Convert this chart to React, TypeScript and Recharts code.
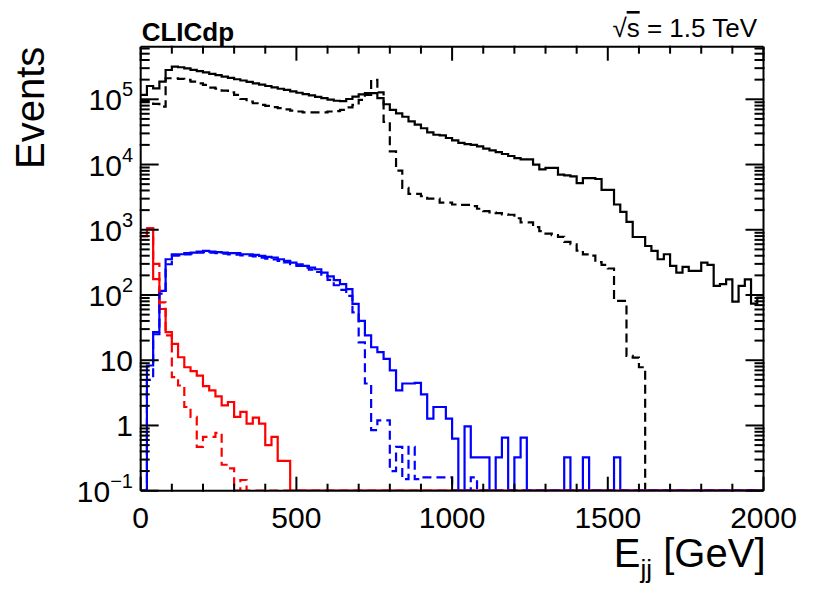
import { LineChart, Line, XAxis, YAxis } from 'recharts';

// 100 bins of 20 GeV, lower bin edges
const BIN_LOW = Array.from({ length: 100 }, (_, i) => i * 20);

// black solid
const BLACK_SOLID = [
  1.17e5, 1.6e5, 1.47e5, 1.86e5, 2.81e5, 3.16e5, 3.1e5, 2.97e5, 2.83e5, 2.7e5,
  2.58e5, 2.45e5, 2.34e5, 2.23e5, 2.13e5, 2.03e5, 1.94e5, 1.85e5, 1.76e5, 1.68e5,
  1.6e5, 1.52e5, 1.45e5, 1.39e5, 1.32e5, 1.26e5, 1.2e5, 1.15e5, 1.09e5, 1.04e5,
  9.9e4, 9.5e4, 9.4e4, 1.01e5, 1.1e5, 1.19e5, 1.24e5, 1.24e5, 1.04e5, 8.4e4,
  6.9e4, 6.1e4, 5.4e4, 4.6e4, 4.1e4, 3.6e4, 3.1e4, 2.86e4, 2.8e4, 2.55e4,
  2.35e4, 2.15e4, 2.05e4, 2.0e4, 1.9e4, 1.75e4, 1.65e4, 1.55e4, 1.45e4, 1.35e4,
  1.25e4, 1.2e4, 1.2e4, 1.0e4, 8.4e3, 8.9e3, 8.9e3, 7.0e3, 6.8e3, 6.6e3,
  5.2e3, 6.2e3, 6.2e3, 6.0e3, 4.1e3, 4.1e3, 2.44e3, 1.88e3, 1.32e3, 774,
  774, 564, 473, 353, 421, 279, 221, 269, 234, 234,
  313, 289, 138, 147, 174, 79, 138, 174, 74, 91,
];

// black dashed
const BLACK_DASHED = [
  9.4e4, 9.4e4, 8.5e4, 7.7e4, 2.1e5, 2.1e5, 2.05e5, 1.98e5, 1.86e5, 1.76e5,
  1.66e5, 1.51e5, 1.45e5, 1.36e5, 1.28e5, 1.17e5, 1.01e5, 9.2e4, 8.7e4, 8.2e4,
  7.9e4, 7.6e4, 7.3e4, 7.0e4, 6.7e4, 6.5e4, 6.3e4, 6.3e4, 6.3e4, 6.3e4,
  6.5e4, 6.6e4, 6.9e4, 7.5e4, 8.2e4, 9.8e4, 1.17e5, 1.98e5, 1.28e5, 4.5e4,
  1.59e4, 8.07e3, 4.4e3, 3.55e3, 3.55e3, 3.27e3, 3.0e3, 3.0e3, 2.6e3, 2.6e3,
  2.44e3, 2.4e3, 2.4e3, 2.3e3, 2.1e3, 1.93e3, 1.85e3, 1.8e3, 1.72e3, 1.7e3,
  1.5e3, 1.3e3, 1.3e3, 1.1e3, 950, 870, 830, 780, 650, 600,
  480, 420, 400, 320, 290, 255, 81, 81, 11.7, 11,
  7.8, 0, 0, 0, 0, 0, 0, 0, 0, 0,
  0, 0, 0, 0, 0, 0, 0, 0, 0, 0,
];

// blue solid
const BLUE_SOLID = [
  0, 8.3, 27, 116, 353, 421, 421, 437, 447, 463,
  473, 463, 455, 447, 437, 437, 421, 421, 411, 397,
  383, 374, 353, 333, 314, 296, 279, 263, 248, 221,
  193, 169, 147, 123, 73, 40, 24, 15.8, 13.3, 10.5,
  7.0, 3.45, 4.4, 4.4, 4.5, 3.0, 1.27, 1.92, 1.92, 1.27,
  0.63, 0, 0.97, 0.324, 0.324, 0.324, 0, 0.324, 0.65, 0,
  0.324, 0.65, 0, 0, 0, 0, 0, 0, 0.324, 0,
  0, 0.324, 0, 0, 0, 0, 0.324, 0, 0, 0,
  0, 0, 0, 0, 0, 0, 0, 0, 0, 0,
  0, 0, 0, 0, 0, 0, 0, 0, 0, 0,
];

// blue dashed
const BLUE_DASHED = [
  0, 5, 25, 105, 296, 400, 405, 420, 430, 445,
  455, 445, 437, 430, 420, 415, 405, 400, 390, 375,
  360, 350, 333, 315, 297, 279, 262, 245, 225, 196,
  170, 141, 120, 97, 54, 18.8, 4.4, 0.85, 1.2, 1.2,
  0.2, 0.47, 0.15, 0.47, 0.15, 0.16, 0.16, 0.16, 0.16, 0.16,
  0, 0, 0, 0.16, 0, 0, 0, 0, 0, 0,
  0, 0, 0, 0, 0, 0, 0, 0, 0, 0,
  0, 0, 0, 0, 0, 0, 0, 0, 0, 0,
  0, 0, 0, 0, 0, 0, 0, 0, 0, 0,
  0, 0, 0, 0, 0, 0, 0, 0, 0, 0,
];

// red solid
const RED_SOLID = [
  800, 1050, 175, 61, 27, 17.8, 11.1, 7.8, 6.8, 5.8,
  4.0, 3.44, 2.8, 2.03, 2.29, 1.35, 1.61, 1.07, 1.32, 1.07,
  0.5, 0.67, 0.287, 0.287, 0, 0, 0, 0, 0, 0,
  0, 0, 0, 0, 0, 0, 0, 0, 0, 0,
  0, 0, 0, 0, 0, 0, 0, 0, 0, 0,
  0, 0, 0, 0, 0, 0, 0, 0, 0, 0,
  0, 0, 0, 0, 0, 0, 0, 0, 0, 0,
  0, 0, 0, 0, 0, 0, 0, 0, 0, 0,
  0, 0, 0, 0, 0, 0, 0, 0, 0, 0,
  0, 0, 0, 0, 0, 0, 0, 0, 0, 0,
];

// red dashed
const RED_DASHED = [
  800, 1050, 300, 77, 24, 5.5, 4.1, 1.92, 1.35, 0.47,
  0.67, 0.67, 0.77, 0.25, 0.22, 0, 0.146, 0, 0, 0,
  0, 0, 0, 0, 0, 0, 0, 0, 0, 0,
  0, 0, 0, 0, 0, 0, 0, 0, 0, 0,
  0, 0, 0, 0, 0, 0, 0, 0, 0, 0,
  0, 0, 0, 0, 0, 0, 0, 0, 0, 0,
  0, 0, 0, 0, 0, 0, 0, 0, 0, 0,
  0, 0, 0, 0, 0, 0, 0, 0, 0, 0,
  0, 0, 0, 0, 0, 0, 0, 0, 0, 0,
  0, 0, 0, 0, 0, 0, 0, 0, 0, 0,
];

const X_MAJOR = [0, 500, 1000, 1500, 2000];
const X_MAJOR_LABELS = ['0', '500', '1000', '1500', '2000'];
const X_MINOR = [
  100, 200, 300, 400, 600, 700, 800, 900, 1100, 1200, 1300, 1400, 1600, 1700, 1800, 1900,
];
const Y_MAJOR = [0.1, 1, 10, 100, 1000, 10000, 100000];
const Y_MAJOR_LABELS: [string, string][] = [
  ['10', '\u22121'], ['1', ''], ['10', ''], ['10', '2'], ['10', '3'], ['10', '4'], ['10', '5'],
];
const Y_MINOR = [
  0.2, 0.3, 0.4, 0.5, 0.6, 0.7, 0.8, 0.9,
  2, 3, 4, 5, 6, 7, 8, 9,
  20, 30, 40, 50, 60, 70, 80, 90,
  200, 300, 400, 500, 600, 700, 800, 900,
  2000, 3000, 4000, 5000, 6000, 7000, 8000, 9000,
  20000, 30000, 40000, 50000, 60000, 70000, 80000, 90000,
  200000, 300000, 400000, 500000, 600000,
];

const Y_MIN = 0.1;
const Y_MAX = 6.4e5;
const X_MAX = 2000;

// layout
const W = 830;
const H = 599;
const LEFT = 140.7;
const RIGHT = 763.5;
const TOP = 46.7;
const BOTTOM = 490.7;
const AX = 1; // every axis band is 1px, two per side
const FONT = '"Liberation Sans", Arial, Helvetica, sans-serif';
const Y_LABEL_RIGHT = 133;

// empty bins are drawn on the lower frame, as ROOT does
const clip = (v: number) => (v < Y_MIN ? Y_MIN : v);

const rows = BIN_LOW.map((x, i) => ({
  x,
  bs: clip(BLACK_SOLID[i]),
  bd: clip(BLACK_DASHED[i]),
  us: clip(BLUE_SOLID[i]),
  ud: clip(BLUE_DASHED[i]),
  rs: clip(RED_SOLID[i]),
  rd: clip(RED_DASHED[i]),
}));
rows.push({ ...rows[rows.length - 1], x: X_MAX });

const noTick = () => <g />;

function XTick(props: any) {
  const { x, payload } = props;
  const i = X_MAJOR.indexOf(payload.value);
  return (
    <text x={x} y={BOTTOM + 37} textAnchor="middle" fontSize={30} fontFamily={FONT} fill="#000">
      {X_MAJOR_LABELS[i]}
    </text>
  );
}

function YTick(props: any) {
  const { y, payload } = props;
  const i = Y_MAJOR.indexOf(payload.value);
  const [base, sup] = Y_MAJOR_LABELS[i];
  return (
    <text x={Y_LABEL_RIGHT} y={y + 11} textAnchor="end" fontSize={30} fontFamily={FONT} fill="#000">
      <tspan>{base}</tspan>
      {sup && <tspan fontSize={20} dy={-14}>{sup}</tspan>}
    </text>
  );
}

const axisLine = { stroke: '#000', strokeWidth: 2 };
const tickLine = { stroke: '#000', strokeWidth: 2 };

export default function App() {
  return (
    <div style={{ position: 'absolute', left: 0, top: 0, width: W, height: H, background: '#fff' }}>
      <LineChart
        width={W}
        height={H}
        data={rows}
        margin={{
          top: TOP - 2 * AX,
          right: W - RIGHT - 2 * AX,
          bottom: H - BOTTOM - 2 * AX,
          left: LEFT - 2 * AX,
        }}
      >
        <XAxis xAxisId="b" dataKey="x" type="number" domain={[0, X_MAX]} allowDataOverflow
          ticks={X_MAJOR} interval={0} height={AX} tickSize={-14} stroke="#000"
          axisLine={axisLine} tickLine={tickLine} tick={<XTick />} />
        <XAxis xAxisId="bm" dataKey="x" type="number" domain={[0, X_MAX]} allowDataOverflow
          ticks={X_MINOR} interval={0} height={AX} tickSize={-8} stroke="#000"
          axisLine={false} tickLine={tickLine} tick={noTick} />
        <XAxis xAxisId="t" orientation="top" dataKey="x" type="number" domain={[0, X_MAX]} allowDataOverflow
          ticks={X_MAJOR} interval={0} height={AX} tickSize={-14} stroke="#000"
          axisLine={axisLine} tickLine={tickLine} tick={noTick} />
        <XAxis xAxisId="tm" orientation="top" dataKey="x" type="number" domain={[0, X_MAX]} allowDataOverflow
          ticks={X_MINOR} interval={0} height={AX} tickSize={-8} stroke="#000"
          axisLine={false} tickLine={tickLine} tick={noTick} />
        <YAxis yAxisId="l" type="number" scale="log" domain={[Y_MIN, Y_MAX]} allowDataOverflow
          ticks={Y_MAJOR} interval={0} width={AX} tickSize={-18} stroke="#000"
          axisLine={axisLine} tickLine={tickLine} tick={<YTick />} />
        <YAxis yAxisId="lm" type="number" scale="log" domain={[Y_MIN, Y_MAX]} allowDataOverflow
          ticks={Y_MINOR} interval={0} width={AX} tickSize={-10} stroke="#000"
          axisLine={false} tickLine={tickLine} tick={noTick} />
        <YAxis yAxisId="r" orientation="right" type="number" scale="log" domain={[Y_MIN, Y_MAX]} allowDataOverflow
          ticks={Y_MAJOR} interval={0} width={AX} tickSize={-18} stroke="#000"
          axisLine={axisLine} tickLine={tickLine} tick={noTick} />
        <YAxis yAxisId="rm" orientation="right" type="number" scale="log" domain={[Y_MIN, Y_MAX]} allowDataOverflow
          ticks={Y_MINOR} interval={0} width={AX} tickSize={-10} stroke="#000"
          axisLine={false} tickLine={tickLine} tick={noTick} />

        <Line xAxisId="b" yAxisId="l" type="stepAfter" dataKey="bs" stroke="#000" strokeWidth={2.2}
          dot={false} activeDot={false} isAnimationActive={false} />
        <Line xAxisId="b" yAxisId="l" type="stepAfter" dataKey="bd" stroke="#000" strokeWidth={2.2}
          strokeDasharray="9 5" dot={false} activeDot={false} isAnimationActive={false} />
        <Line xAxisId="b" yAxisId="l" type="stepAfter" dataKey="us" stroke="#0000ff" strokeWidth={2.2}
          dot={false} activeDot={false} isAnimationActive={false} />
        <Line xAxisId="b" yAxisId="l" type="stepAfter" dataKey="rs" stroke="#ff0000" strokeWidth={2.2}
          dot={false} activeDot={false} isAnimationActive={false} />
        <Line xAxisId="b" yAxisId="l" type="stepAfter" dataKey="rd" stroke="#ff0000" strokeWidth={2.2}
          strokeDasharray="9 5" dot={false} activeDot={false} isAnimationActive={false} />
        <Line xAxisId="b" yAxisId="l" type="stepAfter" dataKey="ud" stroke="#0000ff" strokeWidth={2.2}
          strokeDasharray="9 5" dot={false} activeDot={false} isAnimationActive={false} />
      </LineChart>

      <svg width={W} height={H} style={{ position: 'absolute', left: 0, top: 0, pointerEvents: 'none' }}>
        <g fontFamily={FONT} fill="#000">
          <text x={LEFT + 1} y={41} fontSize={26} fontWeight="bold">CLICdp</text>
          <text x={757} y={37} fontSize={26} textAnchor="end">
            <tspan>{'\u221A'}</tspan>
            <tspan textDecoration="overline" style={{ textDecoration: 'overline' }}>s</tspan>
            <tspan>{' = 1.5 TeV'}</tspan>
          </text>
          <text transform={`translate(44, ${TOP}) rotate(-90)`} textAnchor="end" fontSize={40}>
            Events
          </text>
          <text x={RIGHT + 2} y={567} textAnchor="end" fontSize={40}>
            <tspan>E</tspan>
            <tspan fontSize={26} dy={11}>jj</tspan>
            <tspan dy={-11}>{' [GeV]'}</tspan>
          </text>
        </g>
      </svg>
    </div>
  );
}
